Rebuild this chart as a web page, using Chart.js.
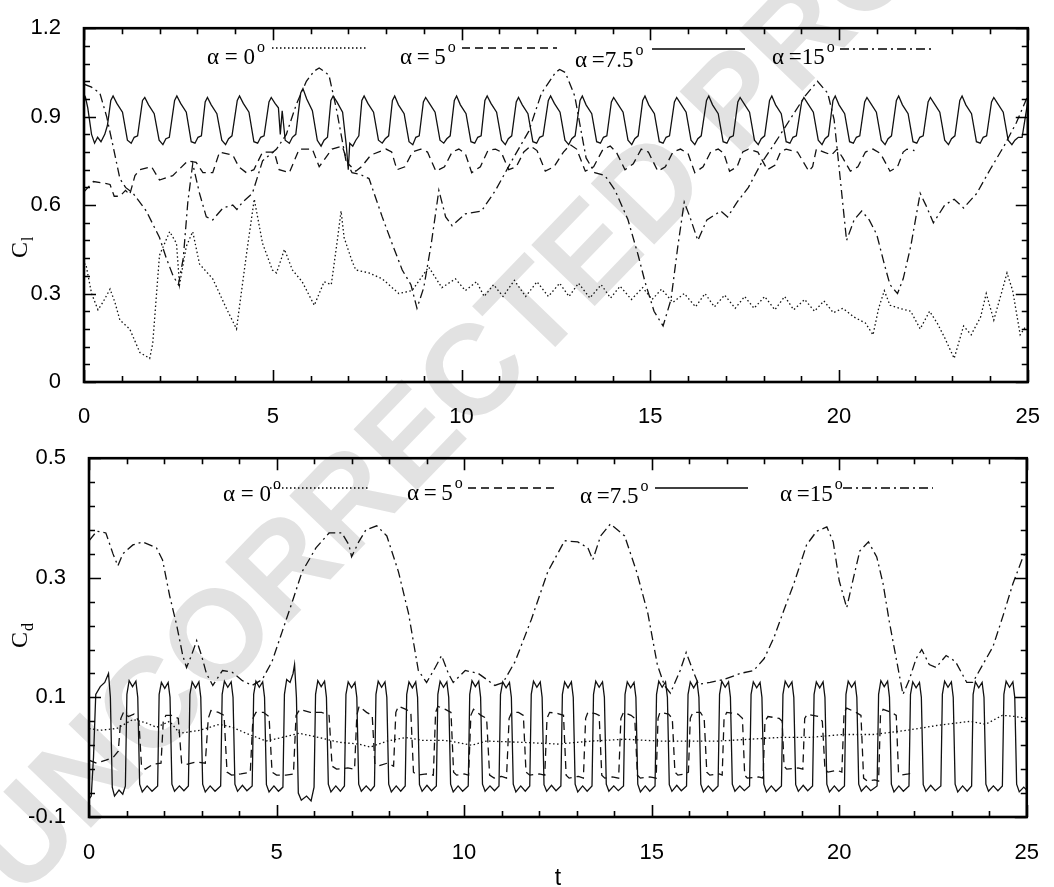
<!DOCTYPE html>
<html>
<head>
<meta charset="utf-8">
<script src="https://cdn.jsdelivr.net/npm/chart.js@4.4.0/dist/chart.umd.min.js"></script>
<style>
    html, body { margin: 0; padding: 0; background: #fff; }
    #wrap { position: relative; width: 1054px; height: 887px; overflow: hidden; }
    #mark {
        position: absolute; left: 505px; top: 335px;
        transform: translate(-50%, -50%) rotate(-46deg);
        font: bold 128px 'Liberation Sans', Arial, sans-serif;
        color: #e2e2e2; white-space: nowrap;
    }
    canvas { position: absolute; left: 0; }
    #clChart { top: 0; }
    #cdChart { top: 430px; }
</style>
</head>
<body>
<div id="wrap">
    <div id="mark">UNCORRECTED PROOF</div>
    <canvas id="clChart" width="1054" height="430"></canvas>
    <canvas id="cdChart" width="1054" height="457"></canvas>
</div>
<script>
/* ---------- data ---------- */
const tTicks = [0, 5, 10, 15, 20, 25];
const clTicks = [0, 0.3, 0.6, 0.9, 1.2];
const cdTicks = [-0.1, 0.1, 0.3, 0.5];
const legendLabels = ['α = 0', 'α\u2009=\u20095', 'α\u2009=7.5', 'α\u2009=15'];

/* lift coefficient, [t, Cl] */
const clA0 = [
    [0,0.40],[0.05,0.40],[0.2,0.30],[0.37,0.245],[0.5,0.27],[0.69,0.315],[0.82,0.27],[0.95,0.21],[1.21,0.18],[1.48,0.10],
    [1.74,0.08],[1.82,0.13],[2.0,0.43],[2.27,0.51],[2.45,0.47],[2.53,0.33],[2.71,0.46],[2.88,0.51],[3.06,0.40],[3.41,0.35],
    [3.77,0.25],[4.04,0.18],[4.3,0.43],[4.51,0.62],[4.73,0.47],[4.99,0.38],[5.1,0.37],[5.31,0.45],[5.52,0.38],[5.78,0.34],
    [6.1,0.26],[6.36,0.34],[6.55,0.33],[6.71,0.48],[6.81,0.58],[6.89,0.49],[7.1,0.41],[7.2,0.38],[7.55,0.37],[7.9,0.35],
    [8.34,0.30],[8.69,0.31],[9.13,0.39],[9.48,0.32],[9.84,0.35],[10.1,0.31],[10.4,0.34],[10.6,0.29],[10.85,0.33],[11.1,0.29],
    [11.4,0.345],[11.7,0.29],[12.0,0.34],[12.3,0.29],[12.6,0.335],[12.85,0.29],[13.1,0.335],[13.4,0.285],[13.7,0.33],[13.95,0.285],
    [14.2,0.325],[14.5,0.28],[14.8,0.32],[15.05,0.28],[15.3,0.315],[15.6,0.27],[15.9,0.30],[16.2,0.255],[16.45,0.30],[16.7,0.255],
    [16.97,0.295],[17.25,0.25],[17.5,0.29],[17.75,0.25],[18.03,0.29],[18.3,0.245],[18.56,0.29],[18.8,0.245],[19.09,0.28],[19.35,0.24],
    [19.6,0.275],[19.85,0.235],[20.1,0.25],[20.4,0.22],[20.7,0.20],[20.9,0.16],[21.05,0.25],[21.2,0.31],[21.35,0.26],[21.6,0.25],
    [21.9,0.24],[22.15,0.18],[22.4,0.24],[22.6,0.20],[22.8,0.15],[23.05,0.08],[23.3,0.19],[23.5,0.16],[23.75,0.22],[23.9,0.30],
    [24.1,0.21],[24.3,0.30],[24.45,0.37],[24.6,0.31],[24.8,0.16],[24.95,0.19]
];
const clA5 = [
    [0,0.645],[0.25,0.68],[0.5,0.675],[0.69,0.67],[0.8,0.63],[0.95,0.63],[1.1,0.65],[1.21,0.635],[1.35,0.70],[1.48,0.72],
    [1.79,0.73],[2.0,0.685],[2.35,0.70],[2.75,0.75],[2.97,0.745],[3.15,0.71],[3.41,0.71],[3.59,0.78],[3.94,0.77],[4.1,0.73],
    [4.3,0.71],[4.5,0.72],[4.73,0.78],[5.04,0.78],[5.17,0.72],[5.44,0.71],[5.7,0.79],[6.05,0.79],[6.23,0.73],[6.57,0.79],
    [6.84,0.80],[7.0,0.74],[7.2,0.715],[7.35,0.73],[7.6,0.77],[8.0,0.79],[8.15,0.78],[8.29,0.72],[8.5,0.73],[8.7,0.78],
    [8.92,0.79],[9.1,0.78],[9.32,0.715],[9.55,0.73],[9.75,0.78],[9.93,0.79],[10.1,0.775],[10.27,0.71],[10.5,0.73],[10.7,0.785],
    [10.9,0.79],[11.05,0.78],[11.25,0.72],[11.45,0.73],[11.65,0.78],[11.83,0.80],[12.0,0.785],[12.22,0.715],[12.45,0.73],[12.7,0.78],
    [12.88,0.805],[13.05,0.79],[13.28,0.715],[13.5,0.73],[13.75,0.79],[13.94,0.80],[14.1,0.78],[14.33,0.72],[14.55,0.74],[14.76,0.79],
    [14.95,0.78],[15.2,0.715],[15.4,0.73],[15.6,0.78],[15.8,0.79],[16.0,0.775],[16.18,0.71],[16.4,0.73],[16.6,0.78],[16.8,0.79],
    [16.95,0.775],[17.1,0.715],[17.3,0.73],[17.45,0.78],[17.6,0.79],[17.85,0.78],[18.1,0.72],[18.3,0.735],[18.45,0.78],[18.6,0.79],
    [18.9,0.78],[19.2,0.715],[19.3,0.73],[19.4,0.79],[19.6,0.78],[19.8,0.77],[19.95,0.79],[20.1,0.76],[20.3,0.715],[20.5,0.73],
    [20.7,0.78],[20.9,0.79],[21.1,0.775],[21.35,0.715],[21.55,0.73],[21.7,0.78],[21.8,0.79],[22.0,0.785]
];
const clA75 = [
    [0,0.95],[0.04,0.965],[0.1,0.93],[0.2,0.84],[0.28,0.81],[0.36,0.83],[0.45,0.815],[0.55,0.84],[0.62,0.87],[0.71,0.955],
    [0.77,0.97],[0.87,0.945],[1.02,0.915],[1.15,0.82],[1.25,0.81],[1.33,0.83],[1.42,0.835],[1.55,0.955],
    [1.61,0.965],[1.71,0.94],[1.86,0.91],[1.99,0.82],[2.09,0.805],[2.17,0.825],[2.26,0.83],[2.4,0.955],
    [2.46,0.97],[2.56,0.945],[2.71,0.915],[2.84,0.815],[2.94,0.81],[3.02,0.83],[3.11,0.835],[3.21,0.95],
    [3.27,0.965],[3.37,0.94],[3.52,0.91],[3.65,0.82],[3.75,0.805],[3.83,0.825],[3.92,0.835],[4.06,0.955],
    [4.12,0.97],[4.22,0.945],[4.37,0.915],[4.5,0.815],[4.6,0.81],[4.68,0.83],[4.77,0.835],[4.9,0.95],
    [4.96,0.965],[5.06,0.945],[5.15,0.93],[5.2,0.84],[5.25,0.92],[5.33,0.82],[5.44,0.81],[5.52,0.83],[5.61,0.84],[5.74,0.98],
    [5.8,0.995],[5.9,0.96],[6.05,0.92],[6.18,0.82],[6.28,0.80],[6.36,0.82],[6.45,0.83],[6.54,0.955],
    [6.6,0.97],[6.7,0.95],[6.85,0.915],[6.95,0.80],[7.0,0.72],[7.04,0.81],[7.12,0.80],[7.2,0.82],[7.28,0.835],[7.36,0.955],
    [7.42,0.97],[7.52,0.945],[7.67,0.915],[7.8,0.82],[7.9,0.81],[7.98,0.825],[8.07,0.835],[8.17,0.955],
    [8.23,0.97],[8.33,0.94],[8.48,0.91],[8.61,0.815],[8.71,0.805],[8.79,0.83],[8.88,0.835],[8.99,0.95],
    [9.05,0.965],[9.15,0.945],[9.3,0.915],[9.43,0.82],[9.53,0.81],[9.61,0.825],[9.7,0.835],[9.81,0.955],
    [9.87,0.97],[9.97,0.94],[10.12,0.91],[10.25,0.815],[10.35,0.81],[10.43,0.83],[10.52,0.835],[10.62,0.955],
    [10.68,0.97],[10.78,0.945],[10.93,0.915],[11.06,0.82],[11.16,0.805],[11.24,0.825],[11.33,0.835],[11.45,0.95],
    [11.51,0.965],[11.61,0.94],[11.76,0.91],[11.89,0.815],[11.99,0.81],[12.07,0.83],[12.16,0.835],[12.3,0.955],
    [12.36,0.97],[12.46,0.945],[12.61,0.915],[12.74,0.82],[12.84,0.805],[12.92,0.825],[13.01,0.835],[13.14,0.955],
    [13.2,0.97],[13.3,0.94],[13.45,0.91],[13.58,0.815],[13.68,0.81],[13.76,0.83],[13.85,0.835],[13.97,0.95],
    [14.03,0.965],[14.13,0.945],[14.28,0.915],[14.41,0.82],[14.51,0.805],[14.59,0.825],[14.68,0.835],[14.8,0.955],
    [14.86,0.97],[14.96,0.94],[15.11,0.91],[15.24,0.815],[15.34,0.81],[15.42,0.83],[15.51,0.835],[15.64,0.95],
    [15.7,0.965],[15.8,0.945],[15.95,0.915],[16.08,0.82],[16.18,0.805],[16.26,0.825],[16.35,0.835],[16.49,0.955],
    [16.55,0.97],[16.65,0.94],[16.8,0.91],[16.93,0.815],[17.03,0.81],[17.11,0.83],[17.2,0.835],[17.32,0.95],
    [17.38,0.965],[17.48,0.945],[17.63,0.915],[17.76,0.82],[17.86,0.805],[17.94,0.825],[18.03,0.835],[18.16,0.955],
    [18.22,0.97],[18.32,0.94],[18.47,0.91],[18.6,0.815],[18.7,0.81],[18.78,0.83],[18.87,0.835],[19.01,0.95],
    [19.07,0.965],[19.17,0.945],[19.32,0.915],[19.45,0.82],[19.55,0.805],[19.63,0.825],[19.72,0.835],[19.84,0.955],
    [19.9,0.97],[20.0,0.94],[20.15,0.91],[20.28,0.815],[20.38,0.81],[20.46,0.83],[20.55,0.835],[20.68,0.95],
    [20.74,0.965],[20.84,0.945],[20.99,0.915],[21.12,0.82],[21.22,0.805],[21.3,0.825],[21.39,0.835],[21.52,0.955],
    [21.58,0.97],[21.68,0.94],[21.83,0.91],[21.96,0.815],[22.06,0.81],[22.14,0.83],[22.23,0.835],[22.36,0.95],
    [22.42,0.965],[22.52,0.945],[22.67,0.915],[22.8,0.82],[22.9,0.805],[22.98,0.825],[23.07,0.835],[23.2,0.955],
    [23.26,0.97],[23.36,0.94],[23.51,0.91],[23.64,0.815],[23.74,0.81],[23.82,0.83],[23.91,0.835],[24.04,0.95],
    [24.1,0.965],[24.2,0.945],[24.35,0.915],[24.48,0.82],[24.58,0.805],[24.66,0.82],[24.75,0.83],[24.85,0.83],[25,0.95]
];
const clA15 = [
    [0,1.01],[0.2,1.0],[0.42,0.98],[0.6,0.90],[0.77,0.80],[0.95,0.69],[1.1,0.66],[1.3,0.64],[1.65,0.58],[2.0,0.49],
    [2.18,0.42],[2.36,0.36],[2.5,0.33],[2.63,0.42],[2.75,0.61],[2.88,0.74],[3.06,0.64],[3.24,0.56],[3.41,0.55],[3.68,0.59],
    [3.94,0.60],[4.05,0.585],[4.2,0.61],[4.46,0.64],[4.73,0.75],[5.1,0.79],[5.36,0.84],[5.62,0.94],[5.89,1.02],[6.1,1.055],
    [6.23,1.065],[6.4,1.05],[6.49,1.04],[6.68,0.93],[6.94,0.75],[7.1,0.71],[7.3,0.705],[7.55,0.69],[7.9,0.56],[8.16,0.47],
    [8.43,0.38],[8.66,0.33],[8.82,0.25],[9.0,0.32],[9.2,0.47],[9.4,0.65],[9.58,0.56],[9.75,0.53],[10.1,0.57],[10.53,0.58],
    [10.9,0.65],[11.33,0.75],[11.78,0.85],[12.12,0.98],[12.49,1.05],[12.6,1.06],[12.75,1.05],[13.0,0.97],[13.17,0.85],[13.3,0.76],
    [13.53,0.71],[13.8,0.70],[14.07,0.65],[14.41,0.55],[14.68,0.43],[14.86,0.34],[15.1,0.24],[15.34,0.19],[15.55,0.28],[15.73,0.46],
    [15.9,0.61],[16.05,0.56],[16.26,0.48],[16.5,0.55],[16.87,0.58],[17.05,0.56],[17.3,0.61],[17.6,0.66],[17.93,0.74],[18.3,0.81],
    [18.7,0.89],[19.1,0.97],[19.43,1.02],[19.7,0.98],[19.87,0.89],[20.0,0.73],[20.2,0.48],[20.4,0.55],[20.6,0.58],[20.8,0.55],
    [21.0,0.50],[21.2,0.40],[21.35,0.33],[21.55,0.30],[21.7,0.35],[21.9,0.46],[22.15,0.64],[22.3,0.60],[22.5,0.54],[22.8,0.60],
    [23.05,0.62],[23.3,0.59],[23.65,0.64],[24.0,0.72],[24.37,0.80],[24.7,0.88],[25.0,0.97]
];

/* drag coefficient, [t, Cd] */
const cdA0 = [
    [0,0.048],[0.29,0.045],[0.74,0.048],[1.17,0.063],[1.5,0.058],[1.8,0.05],[2.15,0.06],[2.42,0.04],[2.95,0.045],[3.48,0.055],
    [3.82,0.05],[4.19,0.04],[4.72,0.027],[5.15,0.033],[5.6,0.04],[6.13,0.033],[6.66,0.025],[7.19,0.022],[7.5,0.017],[7.95,0.027],
    [8.45,0.033],[8.9,0.028],[9.5,0.028],[9.8,0.025],[10.2,0.02],[10.6,0.027],[11.5,0.025],[12.5,0.022],[13.4,0.027],[14.3,0.03],
    [15.2,0.027],[16.0,0.027],[16.8,0.027],[17.6,0.03],[18.4,0.033],[19.2,0.033],[20.1,0.038],[20.9,0.038],[21.8,0.045],[22.6,0.053],
    [23.5,0.06],[23.9,0.055],[24.35,0.07],[24.7,0.068],[25,0.065]
];
const cdA5 = [
    [0,-0.005],[0.2,-0.01],[0.45,-0.005],[0.65,0.0],[0.78,0.01],[0.85,0.065],[0.92,0.075],[1.05,0.068],[1.2,0.072],[1.33,0.06],
    [1.4,-0.015],[1.5,-0.02],[1.7,-0.012],[1.92,-0.01],[1.98,0.06],[2.05,0.07],[2.2,0.07],[2.38,0.065],[2.47,-0.01],[2.6,-0.012],
    [2.85,-0.008],[3.1,-0.01],[3.18,0.065],[3.25,0.078],[3.45,0.075],[3.6,0.07],[3.68,-0.025],[3.8,-0.03],[4.05,-0.028],[4.3,-0.025],
    [4.37,0.065],[4.45,0.075],[4.65,0.075],[4.8,0.068],[4.88,-0.025],[5.0,-0.03],[5.25,-0.03],[5.45,-0.028],[5.52,0.07],[5.62,0.08],
    [5.9,0.075],[6.2,0.075],[6.4,0.07],[6.48,-0.015],[6.6,-0.02],[6.9,-0.018],[7.08,-0.02],[7.14,0.07],[7.2,0.085],[7.4,0.075],
    [7.55,0.07],[7.62,-0.01],[7.7,-0.015],[7.95,-0.01],[8.12,-0.015],[8.18,0.075],[8.25,0.085],[8.45,0.08],[8.58,0.075],[8.65,-0.025],
    [8.75,-0.03],[9.0,-0.028],[9.18,-0.03],[9.24,0.075],[9.3,0.085],[9.5,0.08],[9.65,0.075],[9.72,-0.025],[9.8,-0.03],[10.0,-0.028],
    [10.12,-0.03],[10.18,0.07],[10.25,0.08],[10.45,0.07],[10.6,0.065],[10.68,-0.03],[10.8,-0.035],[11.0,-0.032],[11.13,-0.035],[11.2,0.065],
    [11.27,0.075],[11.45,0.075],[11.58,0.07],[11.65,-0.025],[11.75,-0.03],[12.0,-0.028],[12.15,-0.03],[12.21,0.065],[12.28,0.075],[12.5,0.073],
    [12.65,0.07],[12.72,-0.03],[12.8,-0.035],[13.05,-0.032],[13.18,-0.035],[13.24,0.065],[13.3,0.075],[13.5,0.073],[13.6,0.07],[13.67,-0.03],
    [13.75,-0.035],[13.95,-0.033],[14.12,-0.035],[14.18,0.065],[14.25,0.075],[14.45,0.07],[14.55,0.065],[14.62,-0.03],[14.7,-0.035],[14.95,-0.033],
    [15.12,-0.035],[15.17,0.065],[15.22,0.075],[15.45,0.072],[15.55,0.065],[15.62,-0.025],[15.7,-0.03],[15.9,-0.028],[15.98,-0.025],[16.03,0.065],
    [16.1,0.075],[16.3,0.075],[16.4,0.065],[16.47,-0.025],[16.55,-0.03],[16.8,-0.028],[16.88,-0.03],[16.93,0.065],[17.0,0.075],[17.3,0.072],
    [17.42,0.065],[17.48,-0.03],[17.55,-0.035],[17.85,-0.033],[17.97,-0.035],[18.02,0.06],[18.1,0.068],[18.4,0.065],[18.48,0.06],[18.53,-0.015],
    [18.6,-0.02],[18.9,-0.018],[19.03,-0.02],[19.08,0.065],[19.15,0.072],[19.45,0.068],[19.55,0.06],[19.62,-0.02],[19.7,-0.025],[19.95,-0.022],
    [20.07,-0.025],[20.13,0.075],[20.2,0.082],[20.45,0.075],[20.58,0.07],[20.65,-0.035],[20.75,-0.04],[20.95,-0.038],[21.05,-0.04],[21.1,0.07],
    [21.17,0.08],[21.4,0.075],[21.52,0.07],[21.58,-0.025],[21.65,-0.03],[21.85,-0.028],[22.0,-0.025]
];
const cdA75 = [
    [0,-0.07],[0.06,-0.065],[0.12,0.0],[0.18,0.105],[0.3,0.118],[0.42,0.125],[0.52,0.14],[0.57,0.10],[0.62,-0.05],[0.68,-0.065],[0.8,-0.055],[0.9,-0.062],
    [0.97,-0.048],[1.01,0.105],[1.07,0.128],[1.16,0.118],[1.25,0.127],[1.3,0.10],[1.35,-0.045],[1.42,-0.058],[1.55,-0.048],[1.68,-0.057],
    [1.83,-0.048],[1.87,0.105],[1.93,0.125],[2.02,0.115],[2.11,0.125],[2.16,0.10],[2.21,-0.045],[2.28,-0.057],[2.41,-0.048],[2.53,-0.056],
    [2.65,-0.048],[2.69,0.105],[2.75,0.126],[2.84,0.116],[2.93,0.126],[2.98,0.10],[3.03,-0.045],[3.1,-0.058],[3.23,-0.048],[3.36,-0.057],
    [3.51,-0.048],[3.55,0.105],[3.61,0.127],[3.7,0.117],[3.79,0.126],[3.84,0.10],[3.89,-0.045],[3.96,-0.057],[4.09,-0.047],[4.21,-0.056],
    [4.35,-0.048],[4.39,0.105],[4.45,0.127],[4.54,0.117],[4.63,0.126],[4.68,0.10],[4.73,-0.046],[4.8,-0.058],[4.93,-0.048],[5.05,-0.057],
    [5.17,-0.05],[5.21,0.105],[5.27,0.13],[5.36,0.125],[5.44,0.14],[5.48,0.155],[5.53,0.10],[5.58,-0.06],[5.66,-0.072],[5.8,-0.065],[5.92,-0.073],
    [6.0,-0.05],[6.04,0.105],[6.1,0.128],[6.19,0.118],[6.28,0.127],[6.33,0.10],[6.38,-0.045],[6.45,-0.058],[6.58,-0.048],[6.7,-0.057],
    [6.81,-0.048],[6.85,0.105],[6.91,0.126],[7.0,0.116],[7.09,0.125],[7.14,0.10],[7.19,-0.045],[7.26,-0.057],[7.39,-0.048],[7.51,-0.056],
    [7.61,-0.048],[7.65,0.105],[7.71,0.127],[7.8,0.117],[7.89,0.126],[7.94,0.10],[7.99,-0.045],[8.06,-0.058],[8.19,-0.048],[8.31,-0.057],
    [8.43,-0.048],[8.47,0.105],[8.53,0.126],[8.62,0.116],[8.71,0.126],[8.76,0.10],[8.81,-0.046],[8.88,-0.057],[9.01,-0.047],[9.13,-0.056],
    [9.26,-0.048],[9.3,0.105],[9.36,0.127],[9.45,0.117],[9.54,0.126],[9.59,0.10],[9.64,-0.045],[9.71,-0.058],[9.84,-0.048],[9.96,-0.057],
    [10.11,-0.048],[10.15,0.105],[10.21,0.128],[10.3,0.118],[10.39,0.127],[10.44,0.10],[10.49,-0.045],[10.56,-0.057],[10.69,-0.048],[10.81,-0.056],
    [10.93,-0.048],[10.97,0.105],[11.03,0.126],[11.12,0.116],[11.21,0.125],[11.26,0.10],[11.31,-0.045],[11.38,-0.058],[11.51,-0.048],[11.63,-0.057],
    [11.75,-0.048],[11.79,0.105],[11.85,0.127],[11.94,0.117],[12.03,0.126],[12.08,0.10],[12.13,-0.046],[12.2,-0.057],[12.33,-0.047],[12.45,-0.056],
    [12.58,-0.048],[12.62,0.105],[12.68,0.126],[12.77,0.116],[12.86,0.126],[12.91,0.10],[12.96,-0.045],[13.03,-0.058],[13.16,-0.048],[13.28,-0.057],
    [13.41,-0.048],[13.45,0.105],[13.51,0.127],[13.6,0.117],[13.69,0.126],[13.74,0.10],[13.79,-0.045],[13.86,-0.057],[13.99,-0.048],[14.11,-0.056],
    [14.25,-0.048],[14.29,0.105],[14.35,0.126],[14.44,0.116],[14.53,0.125],[14.58,0.10],[14.63,-0.045],[14.7,-0.058],[14.83,-0.048],[14.95,-0.057],
    [15.09,-0.048],[15.13,0.105],[15.19,0.127],[15.28,0.117],[15.37,0.126],[15.42,0.10],[15.47,-0.046],[15.54,-0.057],[15.67,-0.047],[15.79,-0.056],
    [15.93,-0.048],[15.97,0.105],[16.03,0.126],[16.12,0.116],[16.21,0.126],[16.26,0.10],[16.31,-0.045],[16.38,-0.058],[16.51,-0.048],[16.63,-0.057],
    [16.77,-0.048],[16.81,0.105],[16.87,0.127],[16.96,0.117],[17.05,0.126],[17.1,0.10],[17.15,-0.045],[17.22,-0.057],[17.35,-0.048],[17.47,-0.056],
    [17.61,-0.048],[17.65,0.105],[17.71,0.126],[17.8,0.116],[17.89,0.125],[17.94,0.10],[17.99,-0.045],[18.06,-0.058],[18.19,-0.048],[18.31,-0.057],
    [18.46,-0.048],[18.5,0.105],[18.56,0.127],[18.65,0.117],[18.74,0.126],[18.79,0.10],[18.84,-0.046],[18.91,-0.057],[19.04,-0.047],[19.16,-0.056],
    [19.29,-0.048],[19.33,0.105],[19.39,0.126],[19.48,0.116],[19.57,0.126],[19.62,0.10],[19.67,-0.045],[19.74,-0.058],[19.87,-0.048],[19.99,-0.057],
    [20.14,-0.048],[20.18,0.105],[20.24,0.127],[20.33,0.117],[20.42,0.126],[20.47,0.10],[20.52,-0.045],[20.59,-0.057],[20.72,-0.048],[20.84,-0.056],
    [21.01,-0.048],[21.05,0.105],[21.11,0.128],[21.2,0.118],[21.29,0.127],[21.34,0.10],[21.39,-0.045],[21.46,-0.058],[21.59,-0.048],[21.71,-0.057],
    [21.86,-0.048],[21.9,0.105],[21.96,0.126],[22.05,0.116],[22.14,0.125],[22.19,0.10],[22.24,-0.046],[22.31,-0.057],[22.44,-0.047],[22.56,-0.056],
    [22.71,-0.048],[22.75,0.105],[22.81,0.127],[22.9,0.117],[22.99,0.126],[23.04,0.10],[23.09,-0.045],[23.16,-0.058],[23.29,-0.048],[23.41,-0.057],
    [23.53,-0.048],[23.57,0.105],[23.63,0.126],[23.72,0.116],[23.81,0.125],[23.86,0.10],[23.91,-0.045],[23.98,-0.057],[24.11,-0.048],[24.23,-0.056],
    [24.35,-0.048],[24.39,0.105],[24.45,0.127],[24.54,0.117],[24.63,0.126],[24.68,0.10],[24.73,-0.045],[24.8,-0.058],[24.92,-0.05],[25,-0.055]
];
const cdA15 = [
    [0,0.362],[0.21,0.378],[0.45,0.375],[0.64,0.34],[0.77,0.32],[0.9,0.34],[1.17,0.355],[1.43,0.36],[1.8,0.35],[1.96,0.33],
    [2.15,0.27],[2.34,0.22],[2.5,0.17],[2.6,0.15],[2.73,0.17],[2.87,0.195],[3.0,0.17],[3.13,0.14],[3.3,0.12],[3.56,0.145],
    [3.82,0.142],[4.09,0.128],[4.35,0.12],[4.62,0.13],[4.88,0.16],[5.15,0.21],[5.42,0.26],[5.68,0.31],[6.05,0.35],[6.4,0.375],
    [6.74,0.375],[6.93,0.355],[7.0,0.335],[7.19,0.36],[7.38,0.38],[7.67,0.387],[7.94,0.37],[8.25,0.31],[8.52,0.24],[8.78,0.145],
    [9.0,0.125],[9.23,0.15],[9.4,0.17],[9.58,0.14],[9.71,0.125],[10.03,0.145],[10.38,0.14],[10.82,0.12],[11.04,0.125],[11.36,0.16],
    [11.79,0.23],[12.23,0.31],[12.68,0.362],[13.03,0.36],[13.3,0.35],[13.43,0.33],[13.64,0.37],[13.9,0.39],[14.28,0.37],[14.6,0.31],
    [14.9,0.24],[15.15,0.155],[15.34,0.12],[15.5,0.107],[15.76,0.145],[15.92,0.175],[16.13,0.14],[16.25,0.122],[16.56,0.125],[16.93,0.13],
    [17.36,0.14],[17.72,0.145],[18.0,0.165],[18.26,0.2],[18.52,0.245],[18.79,0.29],[19.13,0.355],[19.4,0.378],[19.67,0.385],[19.84,0.36],
    [20.0,0.295],[20.2,0.25],[20.38,0.30],[20.55,0.345],[20.78,0.36],[21.0,0.335],[21.17,0.29],[21.34,0.225],[21.52,0.165],[21.7,0.105],
    [21.87,0.13],[22.05,0.165],[22.2,0.18],[22.4,0.155],[22.58,0.15],[22.85,0.17],[23.1,0.16],[23.4,0.125],[23.56,0.125],[23.83,0.155],
    [24.1,0.185],[24.36,0.235],[24.63,0.29],[24.9,0.335],[25,0.345]
];

/* ---------- styling ---------- */
const SANS = "'Liberation Sans', Arial, sans-serif";
const SERIF = "'Liberation Serif', 'Times New Roman', serif";
const dashes = [[1.5, 2.5], [8, 5], [], [9, 4, 2, 4]];

function series(rows, i) {
    return {
        label: legendLabels[i],
        data: rows.map(r => ({ x: r[0], y: r[1] })),
        borderColor: '#111',
        borderWidth: 1.3,
        borderDash: dashes[i],
        pointRadius: 0,
        tension: 0,
        fill: false,
    };
}

/* frame, inward ticks, in-plot legend and axis titles */
const panelDecor = {
    id: 'panelDecor',
    afterDraw(chart, args, o) {
        const ctx = chart.ctx;
        const a = chart.chartArea;
        const xs = chart.scales.x, ys = chart.scales.y;
        ctx.save();
        ctx.strokeStyle = '#000';
        ctx.fillStyle = '#000';

        ctx.lineWidth = 1.6;
        ctx.beginPath();
        for (let t = 0; t <= 25; t += 1) {
            const px = Math.round(xs.getPixelForValue(t)) + 0.5;
            const len = t % 5 === 0 ? 12 : 6;
            ctx.moveTo(px, a.bottom); ctx.lineTo(px, a.bottom - len);
            ctx.moveTo(px, a.top); ctx.lineTo(px, a.top + len);
        }
        for (let i = 0; i <= o.minorCount; i++) {
            const py = Math.round(ys.getPixelForValue(o.yMin + i * o.yMinor)) + 0.5;
            const len = i % 5 === 0 ? 12 : 6;
            ctx.moveTo(a.left, py); ctx.lineTo(a.left + len, py);
            ctx.moveTo(a.right, py); ctx.lineTo(a.right - len, py);
        }
        ctx.stroke();

        ctx.lineWidth = 2.6;
        ctx.strokeRect(a.left, a.top, a.right - a.left, a.bottom - a.top);

        // legend inside the plot
        o.legend.forEach((it, i) => {
            const ds = chart.data.datasets[i];
            ctx.textAlign = 'left';
            ctx.textBaseline = 'alphabetic';
            ctx.font = '23px ' + SERIF;
            ctx.fillText(ds.label, it.x, it.y);
            const w = ctx.measureText(ds.label).width;
            ctx.font = '16px ' + SERIF;
            ctx.fillText('o', it.x + w + 2, it.y - 12);
            ctx.lineWidth = 1.3;
            ctx.setLineDash(ds.borderDash);
            ctx.beginPath();
            ctx.moveTo(it.lx1, it.ly); ctx.lineTo(it.lx2, it.ly);
            ctx.stroke();
            ctx.setLineDash([]);
        });

        // y title, C with subscript
        ctx.save();
        ctx.translate(o.titleX, o.titleY);
        ctx.rotate(-Math.PI / 2);
        ctx.font = '24px ' + SERIF;
        ctx.fillText('C', 0, 0);
        const cw = ctx.measureText('C').width;
        ctx.font = '16px ' + SERIF;
        ctx.fillText(o.sub, cw + 1, 6);
        ctx.restore();

        if (o.xTitle) {
            ctx.font = '23px ' + SANS;
            ctx.textAlign = 'center';
            ctx.fillText(o.xTitle, (a.left + a.right) / 2, o.xTitleY);
        }
        ctx.restore();
    }
};

function makePanel(id, datasets, opt) {
    return new Chart(document.getElementById(id), {
        type: 'line',
        data: { datasets },
        options: {
            responsive: false,
            animation: false,
            events: [],
            layout: { padding: { top: opt.padTop, right: 23, left: 0, bottom: 0 } },
            plugins: {
                legend: { display: false },
                tooltip: { enabled: false },
                panelDecor: opt.decor,
            },
            scales: {
                x: {
                    type: 'linear', min: 0, max: 25,
                    grid: { display: false },
                    border: { display: false },
                    afterBuildTicks: s => { s.ticks = tTicks.map(v => ({ value: v })); },
                    afterFit: s => { s.height = opt.xHeight; },
                    ticks: {
                        color: '#000', padding: opt.xPad, maxRotation: 0,
                        font: { family: SANS, size: 22 },
                        callback: v => String(v),
                    },
                },
                y: {
                    type: 'linear', min: opt.yMin, max: opt.yMax,
                    grid: { display: false },
                    border: { display: false },
                    afterBuildTicks: s => { s.ticks = opt.yTicks.map(v => ({ value: v })); },
                    afterFit: s => { s.width = opt.yWidth; },
                    ticks: {
                        color: '#000', padding: 15,
                        font: { family: SANS, size: 22 },
                        callback: v => String(Math.round(v * 10) / 10),
                    },
                },
            },
        },
        plugins: [panelDecor],
    });
}

makePanel('clChart', [series(clA0, 0), series(clA5, 1), series(clA75, 2), series(clA15, 3)], {
    padTop: 19, xHeight: 48, xPad: 14, yWidth: 84,
    yMin: 0, yMax: 1.2, yTicks: clTicks,
    decor: {
        yMin: 0, yMinor: 0.06, minorCount: 20,
        titleX: 27, titleY: 258, sub: 'l',
        legend: [
            { x: 207, y: 64, lx1: 272, lx2: 368, ly: 48 },
            { x: 400, y: 64, lx1: 462, lx2: 557, ly: 48 },
            { x: 575, y: 67, lx1: 652, lx2: 745, ly: 49 },
            { x: 772, y: 64, lx1: 840, lx2: 933, ly: 49 },
        ],
    },
});

makePanel('cdChart', [series(cdA0, 0), series(cdA5, 1), series(cdA75, 2), series(cdA15, 3)], {
    padTop: 23, xHeight: 70, xPad: 15, yWidth: 89,
    yMin: -0.1, yMax: 0.5, yTicks: cdTicks,
    decor: {
        yMin: -0.1, yMinor: 0.04, minorCount: 15,
        titleX: 27, titleY: 218, sub: 'd',
        xTitle: 't', xTitleY: 455,
        legend: [
            { x: 223, y: 71, lx1: 270, lx2: 370, ly: 58 },
            { x: 407, y: 70, lx1: 468, lx2: 558, ly: 58 },
            { x: 580, y: 73, lx1: 655, lx2: 748, ly: 58 },
            { x: 780, y: 71, lx1: 843, lx2: 933, ly: 58 },
        ],
    },
});
</script>
</body>
</html>
